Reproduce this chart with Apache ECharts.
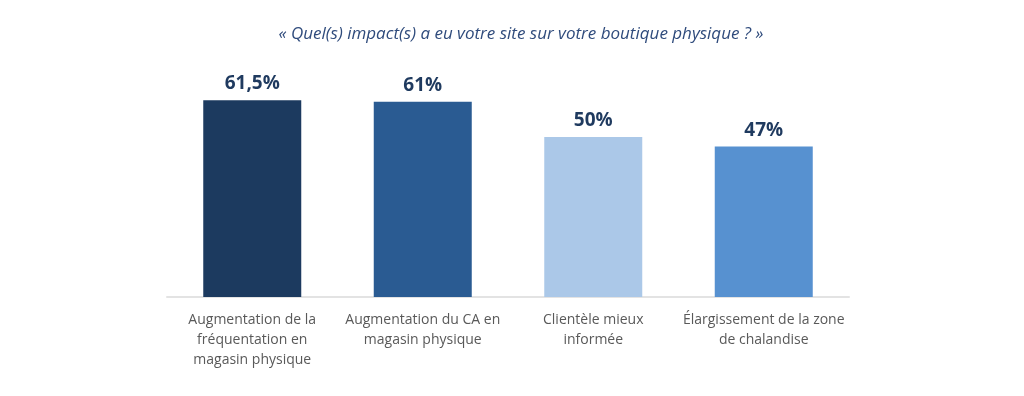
<!DOCTYPE html>
<html>
<head>
<meta charset="utf-8">
<script src="https://cdn.jsdelivr.net/npm/echarts@6/dist/echarts.min.js"></script>
<style>
	html, body { margin: 0; padding: 0; background: #fff; }
	#chart { width: 1024px; height: 396px; }
</style>
</head>
<body>
<div id="chart"></div>
<script>
	const title = "« Quel(s) impact(s) a eu votre site sur votre boutique physique ? »";
	const categories = [
		"Augmentation de la\nfréquentation en\nmagasin physique",
		"Augmentation du CA en\nmagasin physique",
		"Clientèle mieux\ninformée",
		"Élargissement de la zone\nde chalandise",
	];
	const values = [61.5, 61, 50, 47];
	const valueLabels = ["61,5%", "61%", "50%", "47%"];
	const barColors = ["#1c3a5f", "#2a5b92", "#abc8e8", "#5791d0"];

	var chart = echarts.init(document.getElementById("chart"));

	var option = {
		animation: false,
		textStyle: { fontFamily: "Open Sans" },
		title: {
			text: title,
			left: 516,
			textAlign: "center",
			top: 21,
			textStyle: {
				fontFamily: "Open Sans",
				fontStyle: "italic",
				fontWeight: "normal",
				fontSize: 17,
				color: "#2f4b7c",
			},
		},
		grid: {
			left: 167,
			right: 175,
			top: 57,
			bottom: 99,
		},
		xAxis: {
			type: "category",
			data: categories,
			axisLine: { lineStyle: { color: "#e3e3e3", width: 2 } },
			axisTick: { show: false },
			axisLabel: {
				color: "#595959",
				fontSize: 14,
				lineHeight: 20,
				margin: 13,
				interval: 0,
			},
		},
		yAxis: {
			type: "value",
			min: 0,
			max: 75,
			show: false,
			splitLine: { show: false },
		},
		series: [
			{
				type: "bar",
				barWidth: 98,
				data: values.map((v, i) => ({
					value: v,
					itemStyle: { color: barColors[i] },
				})),
				label: {
					show: true,
					position: "top",
					distance: 7,
					fontSize: 19,
					fontWeight: "bold",
					color: "#1f3a5f",
					formatter: (p) => valueLabels[p.dataIndex],
				},
			},
		],
	};

	chart.setOption(option);
</script>
</body>
</html>
